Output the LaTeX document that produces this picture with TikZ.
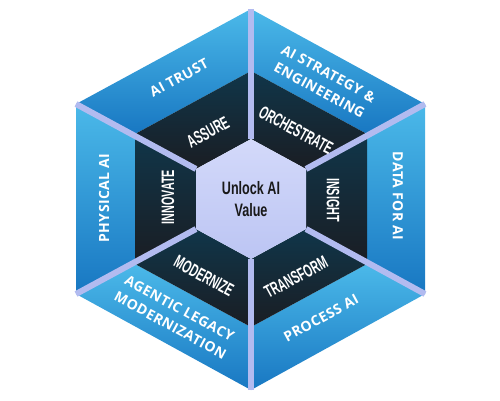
\documentclass[tikz,border=0pt]{standalone}
\usepackage{fontspec}
\usepackage{graphicx}
\newfontfamily\bluefont[LetterSpace=3]{Open Sans}
\newfontfamily\condfont{Liberation Sans}
\newcommand{\cnd}[1]{\scalebox{0.6}[1]{#1}}
\newcommand{\cre}[1]{\scalebox{0.7}[1]{#1}}
\definecolor{bluetop}{HTML}{4BB9E9}
\definecolor{bluebot}{HTML}{1877C2}
\definecolor{darktop}{HTML}{10364A}
\definecolor{darkbot}{HTML}{1A1D23}
\definecolor{coretop}{HTML}{D3D9FA}
\definecolor{corebot}{HTML}{BCC5F3}
\definecolor{sepc}{HTML}{B2BBF0}
\begin{document}
\begin{tikzpicture}[x=1pt,y=-1pt,
  lbl/.style={text=white,font=\bluefont\bfseries\fontsize{14}{19}\selectfont,align=center,inner sep=0pt},
  dlbl/.style={text=white,font=\condfont\bfseries\fontsize{18}{20}\selectfont,inner sep=0pt},
  corelbl/.style={text=black!90,font=\condfont\bfseries\fontsize{18}{22}\selectfont,align=center,inner sep=0pt},
  sepline/.style={line width=6pt,draw=sepc},
  blueseg/.style={top color=bluetop,bottom color=bluebot},
  darkseg/.style={top color=darktop,bottom color=darkbot},
  coreseg/.style={top color=coretop,bottom color=corebot}]
\useasboundingbox (0,0) rectangle (500,400);
% outer hexagon
\coordinate (O1) at (251,9);
\coordinate (O2) at (425,104);
\coordinate (O3) at (425,294);
\coordinate (O4) at (251,390);
\coordinate (O5) at (76,294);
\coordinate (O6) at (76,104);
% middle hexagon
\coordinate (M1) at (251,71);
\coordinate (M2) at (367,134);
\coordinate (M3) at (367,264);
\coordinate (M4) at (251,327);
\coordinate (M5) at (135,264);
\coordinate (M6) at (135,134);
% inner hexagon
\coordinate (I1) at (251,139);
\coordinate (I2) at (306,169);
\coordinate (I3) at (306,229);
\coordinate (I4) at (251,259);
\coordinate (I5) at (196,229);
\coordinate (I6) at (196,169);
% blue segments
\shade[blueseg] (O6) -- (O1) -- (M1) -- (M6) -- cycle;
\shade[blueseg] (O1) -- (O2) -- (M2) -- (M1) -- cycle;
\shade[blueseg] (O2) -- (O3) -- (M3) -- (M2) -- cycle;
\shade[blueseg] (O3) -- (O4) -- (M4) -- (M3) -- cycle;
\shade[blueseg] (O4) -- (O5) -- (M5) -- (M4) -- cycle;
\shade[blueseg] (O5) -- (O6) -- (M6) -- (M5) -- cycle;
% dark segments
\shade[darkseg] (M6) -- (M1) -- (I1) -- (I6) -- cycle;
\shade[darkseg] (M1) -- (M2) -- (I2) -- (I1) -- cycle;
\shade[darkseg] (M2) -- (M3) -- (I3) -- (I2) -- cycle;
\shade[darkseg] (M3) -- (M4) -- (I4) -- (I3) -- cycle;
\shade[darkseg] (M4) -- (M5) -- (I5) -- (I4) -- cycle;
\shade[darkseg] (M5) -- (M6) -- (I6) -- (I5) -- cycle;
% core
\shade[coreseg] (I1) -- (I2) -- (I3) -- (I4) -- (I5) -- (I6) -- cycle;
% separators
\foreach \k in {1,...,6} { \draw[sepline] (O\k) -- (I\k); }
% blue labels
\node[lbl,rotate=28.5] (trust) at (179,78) {AI TRUST};
\node[lbl,rotate=-28.5] (strat) at (324,82) {AI STRATEGY \&\\ENGINEERING};
\node[lbl,rotate=-90] (data) at (398,196) {DATA FOR AI};
\node[lbl,rotate=28.5] (proc) at (321,318) {PROCESS AI};
\node[lbl,rotate=-28.5] (agent) at (175,317) {AGENTIC LEGACY\\MODERNIZATION};
\node[lbl,rotate=90] (phys) at (104,198) {PHYSICAL AI};
% dark labels
\node[dlbl,rotate=28.5] (assure) at (208,132) {\cnd{ASSURE}};
\node[dlbl,rotate=-28.5] (orch) at (296,130) {\cnd{ORCHESTRATE}};
\node[dlbl,rotate=-90] (insight) at (333,200) {\cnd{INSIGHT}};
\node[dlbl,rotate=90] (innov) at (168,197) {\cnd{INNOVATE}};
\node[dlbl,rotate=-28.5] (modern) at (204,276) {\cnd{MODERNIZE}};
\node[dlbl,rotate=28.5] (transf) at (296,277) {\cnd{TRANSFORM}};
% core label
\node[corelbl] (core) at (251,199) {\cre{Unlock AI}\\\cre{Value}};
\end{tikzpicture}
\end{document}
